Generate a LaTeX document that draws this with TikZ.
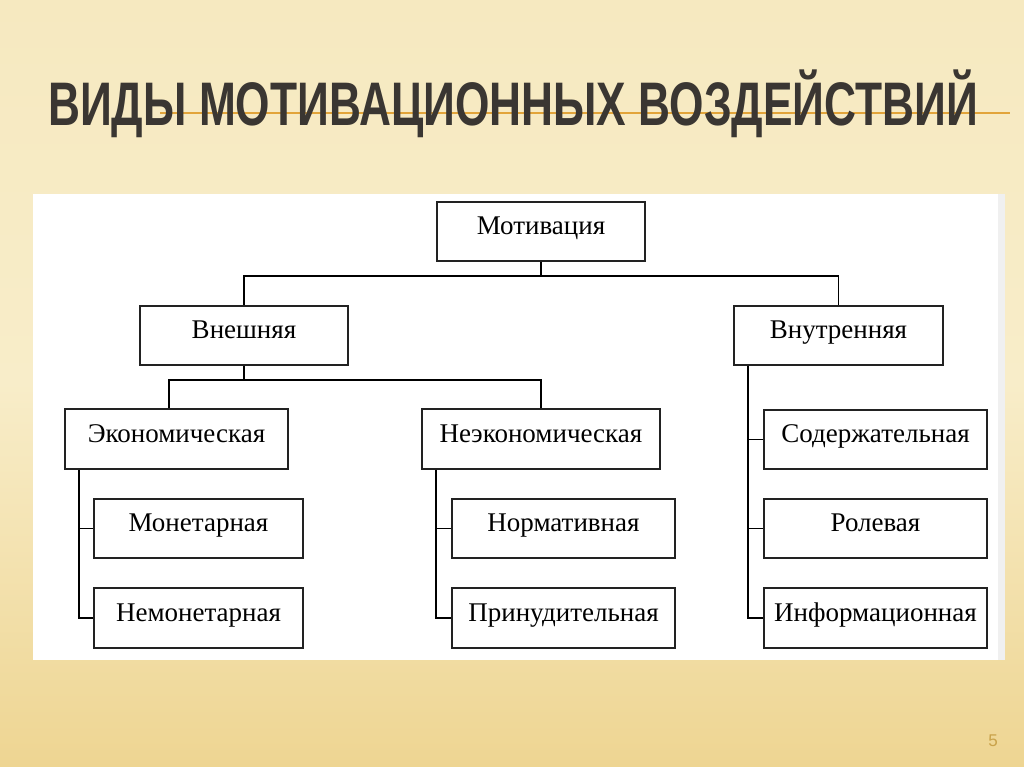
\documentclass[tikz,border=0pt]{standalone}
\usepackage{fontspec}
\setmainfont{Liberation Serif}
\newfontfamily\titlefont{Liberation Sans}
\definecolor{bgtop}{HTML}{F6E9C0}
\definecolor{bgmid}{HTML}{F8EDC9}
\definecolor{bgbot}{HTML}{EED592}
\definecolor{titlecol}{HTML}{3A3632}
\definecolor{rulecol}{HTML}{E2A43A}
\definecolor{numcol}{HTML}{C9A24A}
\definecolor{boxline}{HTML}{222222}
\begin{document}
\begin{tikzpicture}[x=1pt,y=-1pt,
  box/.style={draw=boxline,line width=1.5pt,fill=white,rectangle,inner sep=0pt,
    minimum height=59pt,text height=16pt,text depth=10pt,font=\fontsize{27}{29}\selectfont},
  conn/.style={draw=black,line width=1.6pt}]
\useasboundingbox (0,0) rectangle (1024,767);
% background
\shade[top color=bgtop,bottom color=bgbot,middle color=bgmid] (0,0) rectangle (1024,767);
% title rule
\draw[rulecol,line width=2pt] (160,113) -- (1010,113);
% title
\node[anchor=base west,inner sep=0pt,text=titlecol] (title) at (48,126)
  {\resizebox{930pt}{\height}{\titlefont\bfseries\fontsize{61.5}{62}\selectfont ВИДЫ МОТИВАЦИОННЫХ ВОЗДЕЙСТВИЙ}};
% white panel
\fill[white] (33,194) rectangle (1005,660);
\fill[gray!12] (998,194) rectangle (1005,660);
% nodes
\node[box,minimum width=208pt] (mot) at (541,231.5) {Мотивация};
\node[box,minimum width=208pt] (vne) at (244,335.5) {Внешняя};
\node[box,minimum width=209pt] (vnu) at (838.5,335.5) {Внутренняя};
\node[box,minimum width=223pt,minimum height=60pt] (eko) at (176.5,439) {Экономическая};
\node[box,minimum width=238pt,minimum height=60pt] (neeko) at (541,439) {Неэкономическая};
\node[box,minimum width=209pt] (mon) at (198.5,528.5) {Монетарная};
\node[box,minimum width=209pt,minimum height=60pt] (nemon) at (198.5,618) {Немонетарная};
\node[box,minimum width=223pt] (norm) at (563.5,528.5) {Нормативная};
\node[box,minimum width=223pt,minimum height=60pt] (prin) at (563.5,618) {Принудительная};
\node[box,minimum width=223pt] (sod) at (875.5,439.5) {Содержательная};
\node[box,minimum width=223pt] (rol) at (875.5,528.5) {Ролевая};
\node[box,minimum width=223pt,minimum height=60pt] (inf) at (875.5,618) {Информационная};
% connectors
\coordinate (j1) at (541,276);
\draw[conn] (mot.south) -- (j1);
\draw[conn] (j1) -| (vne.north);
\draw[conn] (j1) -| (vnu.north);
\coordinate (j2) at (244,380);
\draw[conn] (vne.south) -- (j2);
\draw[conn] (j2) -| ([xshift=-7.5pt]eko.north);
\draw[conn] (j2) -| (neeko.north);
\coordinate (e1) at ([xshift=15pt]eko.south west);
\draw[conn] (e1) |- (mon.west);
\draw[conn] (e1) |- (nemon.west);
\coordinate (n1) at ([xshift=15pt]neeko.south west);
\draw[conn] (n1) |- (norm.west);
\draw[conn] (n1) |- (prin.west);
\coordinate (v1) at ([xshift=15pt]vnu.south west);
\draw[conn] (v1) |- (sod.west);
\draw[conn] (v1) |- (rol.west);
\draw[conn] (v1) |- (inf.west);
% page number
\node[text=numcol,font=\titlefont\fontsize{17}{17}\selectfont] (num) at (993,741) {5};
\end{tikzpicture}
\end{document}
